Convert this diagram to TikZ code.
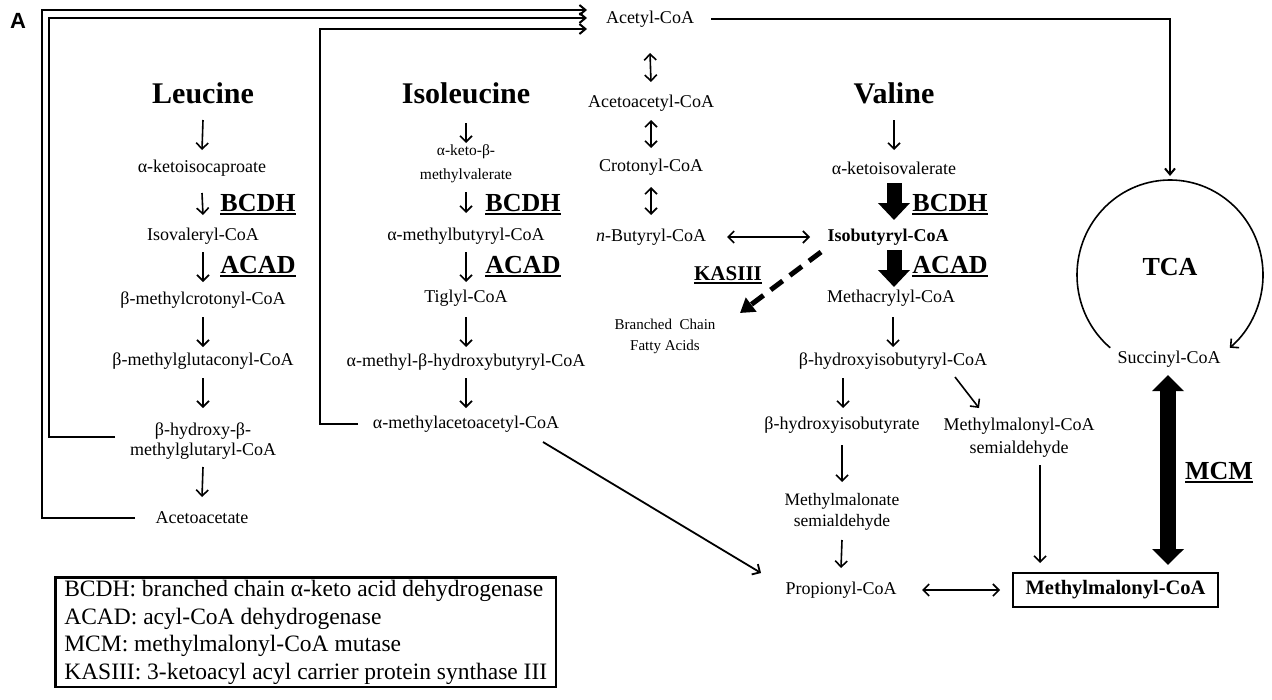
\documentclass[tikz,border=0pt]{standalone}
\usepackage{fontspec}
\setmainfont{Liberation Serif}
\newfontfamily\sansA{Liberation Sans}
\usetikzlibrary{arrows.meta,calc}
\newcommand\enzul[1]{\setbox0\hbox{#1}\rlap{\rule[-3.5pt]{\wd0}{2.2pt}}\box0}
\begin{document}
\begin{tikzpicture}[x=1pt,y=1pt,
  txt/.style={font=\fontsize{18}{20}\selectfont, inner sep=0pt, align=center},
  head/.style={font=\fontsize{30}{32}\selectfont\bfseries, inner sep=0pt},
  enz/.style={font=\fontsize{26}{28}\selectfont\bfseries, inner sep=0pt},
  conn/.style={line width=2pt},
  barb/.tip={Straight Barb[length=6pt,width=12pt]},
  smallbarb/.tip={Straight Barb[length=6pt,width=10pt]},
  arr/.style={line width=1.6pt, -barb},
  darr/.style={line width=1.6pt, barb-barb},
  toparr/.style={line width=2pt, -smallbarb},
  fat/.style={line width=15pt, -{Triangle[length=17pt,width=31pt]}},
  fatd/.style={line width=16pt, {Triangle[length=16pt,width=31pt]}-{Triangle[length=16pt,width=31pt]}},
]
\useasboundingbox (0,0) rectangle (1272,-699);

% label
\node (lblA) at (18,-21) {\sansA\bfseries\fontsize{22}{22}\selectfont A};

% middle chain
\node[txt] (acetyl) at (650,-19) {Acetyl-CoA};
\node[txt] (acac) at (651,-103) {Acetoacetyl-CoA};
\node[txt] (crot) at (651,-167) {Crotonyl-CoA};
\node[txt] (nbut) at (651,-237) {\textit{n}-Butyryl-CoA};

% Leucine
\node[head] (leu) at (203,-93) {Leucine};
\node[txt] (akic) at (202,-168) {α-ketoisocaproate};
\node[enz] (bcdh1) at (258,-205) {\enzul{BCDH}};
\node[txt] (isoval) at (203,-236) {Isovaleryl-CoA};
\node[enz] (acad1) at (258,-267) {\enzul{ACAD}};
\node[txt] (bmc) at (203,-300) {β-methylcrotonyl-CoA};
\node[txt] (bmg) at (203,-361) {β-methylglutaconyl-CoA};
\node[txt] (hmg) at (203,-441) {β-hydroxy-β-\\methylglutaryl-CoA};
\node[txt] (aceto) at (202,-518) {Acetoacetate};

% Isoleucine
\node[head] (ile) at (466,-93) {Isoleucine};
\node[txt, font=\fontsize{15.5}{24}\selectfont] (akmv) at (466,-164) {α-keto-β-\\methylvalerate};
\node[enz] (bcdh2) at (523,-205) {\enzul{BCDH}};
\node[txt] (mbut) at (466,-236) {α-methylbutyryl-CoA};
\node[enz] (acad2) at (523,-267) {\enzul{ACAD}};
\node[txt] (tig) at (466,-298) {Tiglyl-CoA};
\node[txt] (mhb) at (466,-362) {α-methyl-β-hydroxybutyryl-CoA};
\node[txt] (maa) at (466,-424) {α-methylacetoacetyl-CoA};

% Valine
\node[head] (val) at (894,-93) {Valine};
\node[txt] (akiv) at (894,-168) {α-ketoisovalerate};
\node[enz] (bcdh3) at (950,-205) {\enzul{BCDH}};
\node[txt, font=\fontsize{18}{20}\selectfont\bfseries] (isob) at (888,-237) {Isobutyryl-CoA};
\node[enz] (acad3) at (950,-267) {\enzul{ACAD}};
\node[txt] (meth) at (891,-298) {Methacrylyl-CoA};
\node[txt] (hibc) at (893,-361) {β-hydroxyisobutyryl-CoA};
\node[txt] (hib) at (842,-425) {β-hydroxyisobutyrate};
\node[txt, font=\fontsize{18}{23}\selectfont] (mmsa) at (1019,-438) {Methylmalonyl-CoA\\semialdehyde};
\node[txt, font=\fontsize{17.5}{21}\selectfont] (msa) at (842,-512) {Methylmalonate\\semialdehyde};
\node[txt] (prop) at (841,-590) {Propionyl-CoA};
\node[draw, line width=1.3pt, minimum width=205pt, minimum height=34pt, inner sep=0pt,
      font=\fontsize{20.5}{22}\selectfont\bfseries] (mmc) at (1115.5,-590) {Methylmalonyl-CoA};
\node[enz, font=\fontsize{21}{23}\selectfont\bfseries] (kas) at (728,-275) {\enzul{KASIII}};
\node[txt, font=\fontsize{15}{21}\selectfont] (bcfa) at (665,-336) {Branched\ \ Chain\\Fatty Acids};

% TCA
\node[font=\fontsize{26}{28}\selectfont\bfseries, inner sep=0pt] (tca) at (1170,-267) {TCA};
\node[txt] (succ) at (1169,-359) {Succinyl-CoA};
\node[enz] (mcm) at (1219,-473) {\enzul{MCM}};

% legend
\node[draw, line width=2.6pt, anchor=north west, inner xsep=9pt, inner ysep=3pt, align=left,
      font=\fontsize{23.5}{27.5}\selectfont] (legend) at (54,-576)
  {BCDH: branched chain α-keto acid dehydrogenase\\
   ACAD: acyl-CoA dehydrogenase\\
   MCM: methylmalonyl-CoA mutase\\
   KASIII: 3-ketoacyl acyl carrier protein synthase III};

% return lines to Acetyl-CoA
\draw[toparr] ($(aceto)+(-67,0)$) -| ($(acetyl)+(-608,9)$) -- ($(acetyl)+(-63,9)$);
\draw[toparr] ($(hmg)+(-88,4)$) -| ($(acetyl)+(-601,1)$) -- ($(acetyl)+(-63,1)$);
\draw[toparr] ($(maa)+(-108,0)$) -| ($(acetyl)+(-330,-10)$) -- ($(acetyl)+(-63,-10)$);
\draw[toparr] ($(acetyl)+(61,0)$) -| ($(tca)+(0,91)$);

% TCA cycle
\draw[line width=1.6pt, -barb] ($(tca)+(-59.78,-80.77)$) arc[start angle=230,end angle=-50,x radius=93,y radius=95];

% middle chain arrows
\draw[darr] ($(acetyl)+(0,-34)$) -- ($(acac)+(0,21)$);
\draw[darr] ($(acac)+(0,-17)$) -- ($(crot)+(0,19)$);
\draw[darr] ($(crot)+(0,-20)$) -- ($(nbut)+(0,22)$);
\draw[darr] ($(nbut)+(76,0)$) -- ($(isob)+(-78,0)$);

% Leucine arrows
\draw[arr] ($(leu)+(0,-27)$) -- ($(akic)+(0,18)$);
\draw[arr] ($(akic)+(0,-25)$) -- ($(isoval)+(0,21)$);
\draw[arr] ($(isoval)+(0,-16)$) -- ($(bmc)+(0,18)$);
\draw[arr] ($(bmc)+(0,-17)$) -- ($(bmg)+(0,14)$);
\draw[arr] ($(bmg)+(0,-17)$) -- ($(hmg)+(0,33)$);
\draw[arr] ($(hmg)+(0,-26)$) -- ($(aceto)+(0,21)$);

% Isoleucine arrows
\draw[arr] ($(ile)+(0,-30)$) -- ($(akmv)+(0,21)$);
\draw[arr] ($(akmv)+(0,-28)$) -- ($(mbut)+(0,23)$);
\draw[arr] ($(mbut)+(0,-16)$) -- ($(tig)+(0,16)$);
\draw[arr] ($(tig)+(0,-19)$) -- ($(mhb)+(0,15)$);
\draw[arr] ($(mhb)+(0,-16)$) -- ($(maa)+(0,16)$);
\draw[line width=1.8pt, -barb] ($(maa)+(77,-18)$) -- ($(prop)+(-80,17)$);

% Valine arrows
\draw[arr] ($(val)+(0,-27)$) -- ($(akiv)+(0,18)$);
\draw[fat] ($(akiv)+(0,-15)$) -- ($(isob)+(6,17)$);
\draw[fat] ($(isob)+(6,-13)$) -- ($(meth)+(3,11)$);
\draw[line width=5pt, dash pattern=on 15pt off 9pt, -{Triangle[length=14pt,width=17pt]}]
  ($(isob)+(-67,-15)$) -- ($(bcfa)+(75,23)$);
\draw[arr] ($(meth)+(2,-19)$) -- ($(hibc)+(0,14)$);
\draw[arr] ($(hibc)+(-50,-17)$) -- ($(hib)+(1,17)$);
\draw[arr] ($(hibc)+(62,-16)$) -- ($(mmsa)+(-40,30)$);
\draw[arr] ($(hib)+(0,-20)$) -- ($(msa)+(0,30)$);
\draw[arr] ($(msa)+(0,-28)$) -- ($(prop)+(0,22)$);
\draw[arr] ($(mmsa)+(21,-27)$) -- ($(mmc)+(-75.5,27)$);
\draw[darr] ($(prop)+(81,0)$) -- ($(mmc)+(-115.5,0)$);
\draw[fatd] ($(mmc)+(52.5,25)$) -- ($(succ)+(-1,-16)$);
\end{tikzpicture}
\end{document}
